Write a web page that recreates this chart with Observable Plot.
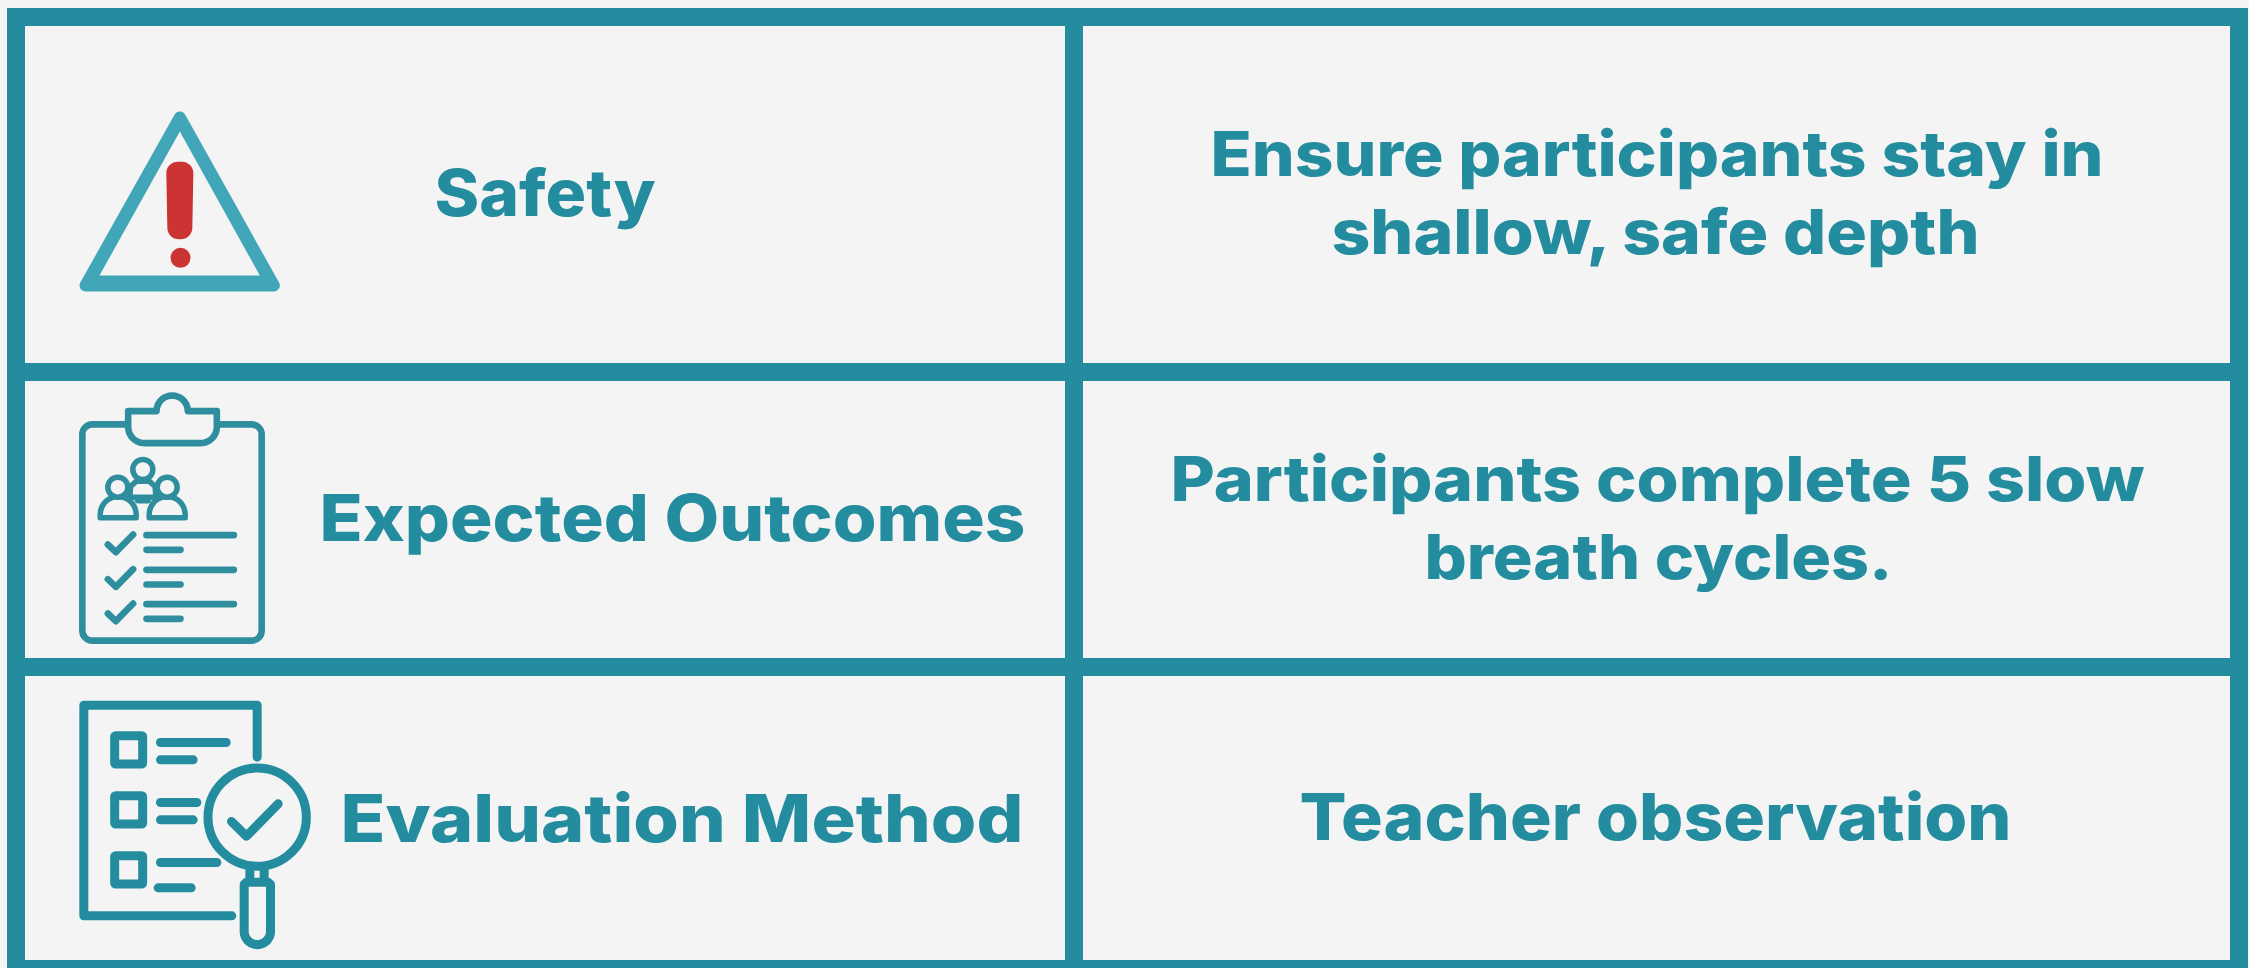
<!DOCTYPE html>
<html>
<head>
<meta charset="utf-8">
<style>
html,body{margin:0;padding:0;background:#f4f4f4;overflow:hidden}
svg{display:block}
</style>
<script src="https://cdn.jsdelivr.net/npm/d3@7"></script>
<script src="https://cdn.jsdelivr.net/npm/@observablehq/plot@0.6"></script>
</head>
<body>
<div id="chart"></div>
<script>
// ---- content ----
const rowLabels = ["Safety", "Expected Outcomes", "Evaluation Method"];
const rowNotes = [
  ["Ensure participants stay in", "shallow, safe depth"],
  ["Participants complete 5 slow", "breath cycles."],
  ["Teacher observation"]
];
// ---- table rules (left, right edge of each rule) ----
const verticalRules = [[7, 25], [1065, 1083], [2230, 2248]];
const horizontalRules = [[8, 26], [363, 381], [658, 676], [960, 968]];

// ---- layout of the text lines: left, right, baseline, font size ----
const labelLayout = [[434, 655, 215, 65], [319, 1025, 540, 65], [340, 1023, 841, 66]];
const noteLayout = [
  [[1210, 2103, 175, 62], [1331, 1979, 253, 62]],
  [[1170, 2144, 500, 62], [1424, 1892, 578, 62]],
  [[1299, 2011, 839, 65]]
];

const teal = "#238d9f", soft = "#42a6b9", red = "#cc3333", paper = "#f4f4f4", iconTeal = "#2f8e9e";
const W = 2249, H = 968;
const font = "Inter";

const lines = [];
rowLabels.forEach((t, i) => {
  const [x1, x2, y, size] = labelLayout[i];
  lines.push({t, x1, x2, y, size});
});
rowNotes.forEach((ls, i) => ls.forEach((t, j) => {
  const [x1, x2, y, size] = noteLayout[i][j];
  lines.push({t, x1, x2, y, size});
}));

// helpers: icon outlines are read in crops, z = 3x crop pixels
const arc = (cx, cy, r, a0, a1, n = 14) =>
  d3.range(n + 1).map(i => {
    const a = (a0 + (a1 - a0) * i / n) * Math.PI / 180;
    return [cx + r * Math.cos(a), cy + r * Math.sin(a)];
  });
const at = (ox, oy) => pts => pts.map(([x, y]) => [ox + x / 3, oy + y / 3]);
const path = (pts, strokeWidth, stroke, fill = "none") =>
  Plot.line(pts, {x: d => d[0], y: d => d[1], stroke, fill, strokeWidth,
    strokeLinecap: "round", strokeLinejoin: "round", curve: "linear"});
const ring = (pts, r, strokeWidth, stroke, fill) =>
  Plot.dot(pts, {x: d => d[0], y: d => d[1], r, stroke, fill, strokeWidth});

// warning icon
const A = at(0, 0);
const warning = [
  path(A([[538, 351], [820, 855], [255, 855], [538, 351]]), 12, soft, soft),
  path(A([[538, 393], [778, 825], [297, 825], [538, 393]]), 0, paper, paper),
  path(A([[532, 518], [544, 518], [541, 682], [535, 682], [532, 518]]), 23, red, red),
  ring(A([[540, 772]]), 10, 0, "none", red)
];

// clipboard icon
const B = at(0, 360);
const s = 6.6;
const clipShape = B([
  [383, 152], [468, 152], ...arc(515, 152, 47, 180, 360), [649, 152], [649, 200],
  ...arc(600, 199, 49, 0, 90), ...arc(432, 199, 49, 90, 180), [383, 152]
]);
const bodyL = cx => B([[cx - 54, 472], [cx - 54, 462], ...arc(cx, 462, 54, 180, 360), [cx + 54, 472], [cx - 54, 472]]);
const clipboard = [
  Plot.rect([0], {x1: () => 247 / 3, x2: () => 785 / 3, y1: () => 360 + 193 / 3, y2: () => 360 + 842 / 3,
    rx: 10, stroke: iconTeal, strokeWidth: s, fill: "none"}),
  path(clipShape, s, iconTeal, paper),
  path(B([[388, 410], [390, 378], [408, 362], [446, 362], [464, 378], [466, 410], [388, 410]]), 5.5, iconTeal, paper),
  path(B([[412, 420], [442, 420]]), 6, iconTeal),
  path(bodyL(353), 5.5, iconTeal, paper),
  path(bodyL(500), 5.5, iconTeal, paper),
  ring(B([[427, 327], [352, 380], [500, 380]]), 10, 5.5, iconTeal, paper),
  ...[0, 104, 207].flatMap(d => [
    path(B([[322, 552 + d], [346, 575 + d], [398, 522 + d]]), s, iconTeal),
    path(B([[438, 524 + d], [700, 524 + d]]), s, iconTeal),
    path(B([[438, 568 + d], [540, 568 + d]]), s, iconTeal)
  ])
];

// evaluation icon
const C = at(0, 660);
const t = 9;
const evaluation = [
  path(C([[770, 290], [770, 134], [250, 134], [250, 766], [694, 766]]), t, teal),
  ...[227, 407, 587].map(y =>
    Plot.rect([0], {x1: () => 344 / 3, x2: () => 428 / 3, y1: () => 660 + y / 3, y2: () => 660 + (y + 85) / 3,
      stroke: teal, strokeWidth: t, fill: "none", rx: 1})),
  path(C([[480, 246], [677, 246]]), t, teal),
  path(C([[480, 298], [578, 298]]), t, teal),
  path(C([[480, 426], [589, 426]]), t, teal),
  path(C([[480, 478], [578, 478]]), t, teal),
  path(C([[480, 606], [649, 606]]), t, teal),
  path(C([[473, 682], [572, 682]]), t, teal),
  path(C([[748, 622], [748, 660]]), t, teal),
  path(C([[791, 622], [791, 660]]), t, teal),
  path(C([[731, 672], [738, 665], [802, 665], [810, 672], [810, 813], ...arc(770.5, 813, 39.5, 0, 180), [731, 672]]), t, teal, paper),
  ring(C([[770, 470]]), 147.5 / 3, t, teal, paper),
  path(C([[693, 483], [738, 527], [833, 430]]), t, teal)
];

const chart = Plot.plot({
  width: W, height: H,
  marginTop: 0, marginRight: 0, marginBottom: 0, marginLeft: 0,
  x: {domain: [0, W], range: [0, W], axis: null},
  y: {domain: [0, H], range: [0, H], axis: null},
  style: {background: paper},
  marks: [
    Plot.rect(verticalRules, {x1: d => d[0], x2: d => d[1], y1: () => 8, y2: () => H, fill: teal}),
    Plot.rect(horizontalRules, {x1: () => 7, x2: () => 2248, y1: d => d[0], y2: d => d[1], fill: teal}),
    ...warning,
    ...clipboard,
    ...evaluation,
    Plot.text(lines, {
      x: d => d.x1, y: d => d.y, text: d => d.t,
      fontSize: d => d.size,
      textAnchor: "start", lineAnchor: "bottom",
      fontFamily: font, fontWeight: 800, fill: teal,
      className: "table-text"
    })
  ]
});
document.getElementById("chart").appendChild(chart);

// fit each line to the width it has in the reference
d3.select(chart).selectAll("g.table-text text").each(function (_, i) {
  const d = lines[i];
  this.setAttribute("textLength", d.x2 - d.x1);
  this.setAttribute("lengthAdjust", "spacingAndGlyphs");
});
</script>
</body>
</html>
